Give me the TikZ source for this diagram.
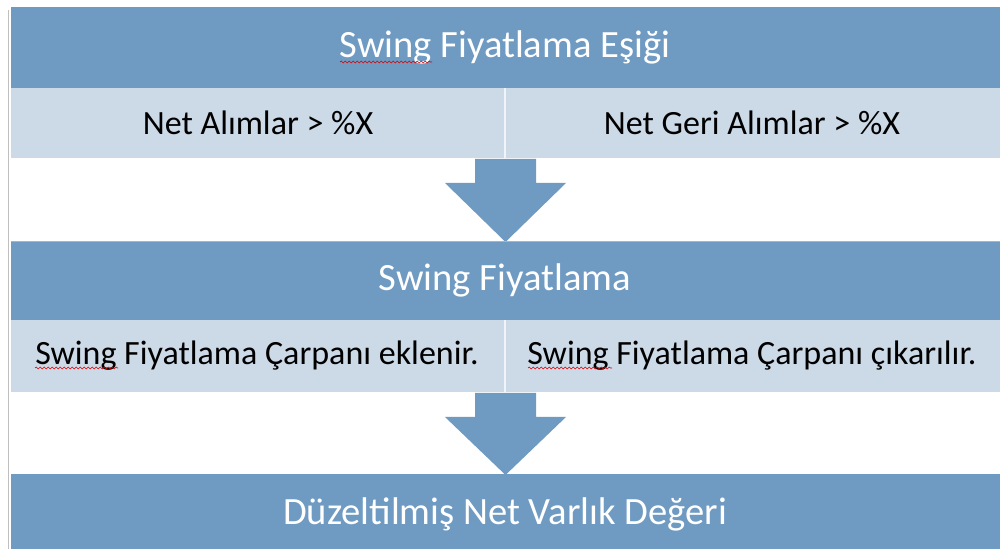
\documentclass[tikz,border=0pt]{standalone}
\usepackage{fontspec}
\setmainfont{Carlito}
\usetikzlibrary{calc,decorations.pathmorphing}
\definecolor{darkband}{RGB}{111,154,194}
\definecolor{lightband}{RGB}{204,217,231}
\tikzset{
  band/.style={fill=darkband,draw=none,inner sep=0pt,text=white,font=\fontsize{19.3}{22}\selectfont},
  cell/.style={fill=lightband,draw=none,inner sep=0pt,text=black,font=\fontsize{17}{20}\selectfont},
  blockarrow/.style={fill=darkband,draw=none},
  spell/.style={draw=red!85!black,line width=0.3pt,decorate,decoration={snake,amplitude=0.45pt,segment length=2pt}}
}
\begin{document}
\begin{tikzpicture}[x=0.5pt,y=-0.5pt]
\useasboundingbox (0,0) rectangle (1000,549);
% frame line
\draw[gray!50,line width=0.4pt] (8,10) -- (8,549);
% bands
\fill[darkband] (11,7) rectangle (1000,88);
\node[band] (t1) at (505,47) {Swing Fiyatlama Eşiği};
\fill[lightband] (11,88) rectangle (1000,158);
\draw[white!70!lightband,line width=0.6pt] (505,88) -- (505,158);
\node[cell] (c1) at (258,123) {Net Alımlar > \%X};
\node[cell] (c2) at (752,123) {Net Geri Alımlar > \%X};
% arrow 1
\fill[blockarrow] (475,159) -- (536,159) -- (536,183) -- (566,183) -- (505.5,242) -- (445,183) -- (475,183) -- cycle;
\fill[darkband] (11,241) rectangle (1000,320);
\draw[gray!60,line width=0.4pt] (11,241) -- (1000,241);
\node[band] (t2) at (505,280) {Swing Fiyatlama};
\fill[lightband] (11,320) rectangle (1000,392);
\draw[white!70!lightband,line width=0.6pt] (505,320) -- (505,392);
\node[cell] (c3) at (257,356) {Swing Fiyatlama Çarpanı eklenir.};
\node[cell] (c4) at (752,356) {Swing Fiyatlama Çarpanı çıkarılır.};
% spell-check marks
\draw[spell] (340,62) -- (432,62);
\draw[spell] (35,368) -- (118,368);
\draw[spell] (528,368) -- (612,368);
% arrow 2
\fill[blockarrow] (475,393) -- (536,393) -- (536,417) -- (566,417) -- (505.5,475) -- (445,417) -- (475,417) -- cycle;
\fill[darkband] (11,474) rectangle (1000,549);
\node[band] (t3) at (505,514) {Düzeltilmiş Net Varlık Değeri};
\end{tikzpicture}
\end{document}
